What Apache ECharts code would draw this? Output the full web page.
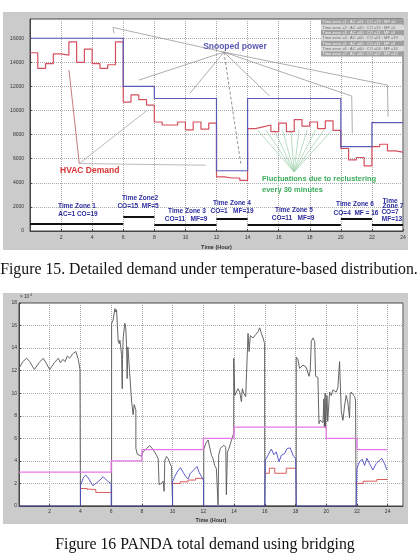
<!DOCTYPE html>
<html>
<head>
<meta charset="utf-8">
<script src="https://cdn.jsdelivr.net/npm/echarts@6/dist/echarts.min.js"></script>
<style>
html, body { margin: 0; padding: 0; background: #fff; }
#chart { width: 418px; height: 554px; }
</style>
</head>
<body>
<div id="chart"></div>
<script>
// time zone edges (hour)
const zoneEdges = [0, 6, 8, 12, 14, 20, 22, 24];
// fig 15: snooped power per zone (W)
const snoopedPower = [16000, 12000, 11000, 5000, 11000, 7000, 9000];
// fig 15: thick black zone markers
const zoneMarker = [600, 1200, 500, 1000, 500, 1000, 500];
// fig 15: HVAC demand, one value every 30 minutes
const hvacDemand = [
  14800, 13500, 13900, 14700, 14600, 15700, 14000, 15100, 13900, 13500, 13800, 15700,
  10700, 11300, 10900, 10450,
  9050, 8800, 8800, 9050, 8400, 9050, 8450, 8950,
  4500, 4400, 4400, 4200,
  8500, 8650, 8800, 8250, 8950, 8250, 9250, 8700, 9050, 8500, 9150, 8350,
  6850, 5900, 6100, 5400,
  7000, 7200, 6650, 6550
];
const zoneText = [
  'Time zone =1 : AC =01 : CO =19 : MF =0',
  'Time zone =2 : AC =00 : CO =15 : MF =5',
  'Time zone =3 : AC =00 : CO =11 : MF =9',
  'Time zone =4 : AC =00 : CO =01 : MF =19',
  'Time zone =5 : AC =00 : CO =11 : MF =9',
  'Time zone =6 : AC =00 : CO =04 : MF =16',
  'Time zone =7 : AC =00 : CO =07 : MF =13'
];
// leader lines (data coords of fig 15)
const snoopLeaders = [
  [[12.48, 14850], [5.34, 16900], [5.41, 16400]],
  [[12.48, 14850], [7.01, 12530]],
  [[12.48, 14850], [10.28, 11420]],
  [[12.48, 14850], [15.42, 11200]],
  [[12.48, 14850], [20.7, 11200], [20.74, 8120]],
  [[12.48, 14850], [23.0, 12110], [23.04, 9480]]
];
const snoopDashed = [[[12.48, 14850], [13.56, 5600]]];
const hvacLeaders = [
  [[3.17, 5600], [7.55, 10030]],
  [[3.17, 5600], [11.31, 5460]]
];
const hvacRedLeader = [[[3.17, 5600], [2.51, 13360]]];
const fluctApex = [16.99, 4900];
const fluctTargets = [14.63, 15.17, 15.70, 16.24, 16.78, 17.31, 17.85, 18.38, 18.92, 19.46];

// fig 16 (x 10^4 W)
const zoneBudget = [3, 4, 5, 6, 7, 6, 5];
const pandaTotal = [
  [0, 12.2], [0.25, 12.8], [0.5, 13.1], [0.7, 12.8], [1.0, 12.1], [1.3, 12.7], [1.58, 13.1],
  [1.8, 12.6], [2.0, 12.1], [2.3, 12.7], [2.56, 13.1], [2.7, 12.7], [2.85, 13.0], [3.0, 12.8],
  [3.15, 13.3], [3.3, 13.1], [3.5, 13.5], [3.7, 13.7], [3.86, 13.0], [3.97, 12.1], [4.0, 0],
  [6.03, 0], [6.03, 16.2], [6.13, 16.5], [6.24, 17.5], [6.3, 17.2], [6.35, 17.4], [6.46, 14.6],
  [6.52, 14.4], [6.57, 14.7], [6.68, 13.4], [6.72, 10.4], [6.74, 13.0], [6.78, 14.9], [6.89, 16.2],
  [6.95, 15.8], [7.0, 14.3], [7.04, 11.3], [7.09, 14.1], [7.17, 12.5], [7.26, 12.5], [7.33, 9.3],
  [7.43, 8.1], [7.5, 9.0], [7.54, 8.9], [7.61, 8.5], [7.61, 5.1], [7.7, 4.6], [7.82, 4.5],
  [7.98, 4.4], [8.08, 4.8], [8.3, 5.1], [8.52, 5.35], [8.73, 5.0], [8.95, 4.5], [9.06, 4.2],
  [9.12, 1.9], [9.28, 2.0], [9.38, 2.2], [9.45, 1.3], [9.49, 4.0], [9.6, 4.4], [9.71, 4.2],
  [9.82, 3.8], [9.93, 3.5], [9.99, 3.5], [10.0, 0],
  [12.03, 0], [12.03, 5.0], [12.16, 5.55], [12.31, 5.85], [12.42, 5.7], [12.53, 4.5], [12.63, 4.2],
  [12.74, 3.6], [12.85, 3.3], [12.96, 3.3], [12.96, 0.1], [13.0, 4.5], [13.11, 5.1], [13.33, 5.4],
  [13.46, 5.2], [13.5, 1.0], [13.57, 4.8], [13.67, 5.1], [13.76, 5.5], [13.87, 6.0], [13.98, 6.45],
  [13.98, 13.1], [14.05, 9.8], [14.26, 10.4], [14.37, 10.1], [14.48, 9.25], [14.54, 10.4],
  [14.63, 10.0], [14.76, 9.7], [14.85, 9.6], [14.91, 15.3], [14.98, 13.7], [15.06, 15.1],
  [15.24, 14.9], [15.41, 15.2], [15.56, 15.45], [15.67, 15.8], [15.78, 15.3], [15.89, 14.9],
  [15.99, 14.4], [16.0, 0],
  [18.05, 0], [18.05, 13.2], [18.16, 13.0], [18.27, 12.2], [18.49, 12.5], [18.7, 12.3],
  [18.88, 11.5], [18.96, 12.0], [19.03, 14.6], [19.14, 14.9], [19.25, 14.6], [19.31, 11.5],
  [19.4, 11.4], [19.46, 11.4], [19.53, 7.3], [19.61, 7.6], [19.79, 7.4], [19.85, 9.5],
  [19.88, 7.0], [19.93, 10.0], [19.96, 6.9], [20.0, 6.9], [20.05, 9.8], [20.1, 7.5],
  [20.22, 10.1], [20.33, 9.8], [20.44, 10.3], [20.55, 10.4], [20.65, 10.1], [20.76, 10.5],
  [20.87, 12.8], [20.94, 12.7], [20.98, 8.4], [21.09, 7.6], [21.2, 8.95], [21.3, 9.8],
  [21.41, 9.2], [21.52, 7.8], [21.56, 9.9], [21.63, 10.1], [21.74, 10.0], [21.85, 9.7],
  [21.91, 9.4], [21.95, 0]
];
const groupPower = [
  [0, 0], [4, 0], [4, 1.8], [4.2, 2.55], [4.35, 2.75], [4.55, 2.4], [4.8, 1.8], [5.0, 2.0],
  [5.27, 2.3], [5.48, 2.6], [5.59, 2.75], [5.81, 2.15], [6.0, 2.0], [6.0, 0],
  [10, 0], [10, 2.15], [10.14, 2.6], [10.29, 3.0], [10.51, 3.4], [10.68, 3.0], [10.86, 2.6],
  [11.01, 2.4], [11.16, 2.9], [11.38, 3.2], [11.59, 3.5], [11.72, 3.0], [11.88, 2.6],
  [12.01, 2.3], [12.01, 0],
  [16, 0], [16.04, 4.08], [16.21, 4.5], [16.43, 5.05], [16.6, 4.55], [16.75, 4.8], [16.93, 3.93],
  [17.08, 4.5], [17.3, 4.65], [17.45, 5.1], [17.66, 5.15], [17.84, 4.5], [18.01, 4.2], [18.05, 0],
  [21.95, 0], [22, 3.34], [22.17, 3.93], [22.34, 4.15], [22.5, 3.6], [22.65, 4.23], [22.82, 3.75],
  [23.04, 3.19], [23.25, 3.75], [23.47, 4.05], [23.62, 4.23], [23.8, 3.75], [23.95, 3.19]
];
const groupHvac = [
  [[4, 1.55], [4.45, 1.55], [4.45, 1.45], [4.55, 1.5], [5.0, 1.45], [5.0, 1.2], [6.0, 1.2]],
  [[10, 2.0], [10.5, 2.0], [10.5, 2.15], [11, 2.15], [11, 2.3], [11.5, 2.3], [11.5, 2.45], [12, 2.45]],
  [[16, 2.9], [16.3, 2.9], [16.3, 3.35], [16.65, 3.35], [16.65, 2.9], [17.4, 2.9], [17.4, 3.35], [18, 3.35]],
  [[22, 2.0], [22.4, 2.0], [22.4, 2.2], [23.3, 2.2], [23.3, 2.35], [24, 2.35]]
];

const SANS = '"Liberation Sans", Arial, sans-serif';
const SERIF = '"Liberation Serif", "Times New Roman", serif';

function stepData(edges, vals) {
  const d = vals.map((v, i) => [edges[i], v]);
  d.push([edges[edges.length - 1], vals[vals.length - 1]]);
  return d;
}
function asLines(list) {
  return list.map(c => ({ coords: c }));
}

const hvacData = hvacDemand.map((v, i) => [i * 0.5, v]);
hvacData.push([24, hvacDemand[hvacDemand.length - 1]]);

const markerLines = zoneMarker.map((v, i) => ({
  coords: [[zoneEdges[i], v], [zoneEdges[i + 1], v]]
}));
const fluctLines = fluctTargets.map(t => ({ coords: [fluctApex, [t, 8400]] }));

function axisBase(extra) {
  return Object.assign({
    type: 'value',
    axisLine: { show: true, lineStyle: { color: '#444', width: 1 } },
    axisTick: { show: true, inside: true, length: 2, lineStyle: { color: '#444' } },
    splitLine: { show: true, lineStyle: { color: '#aaa', type: 'dotted', width: 1 } },
    nameTextStyle: { fontSize: 5.5, fontWeight: 'bold', color: '#333', fontFamily: SANS }
  }, extra);
}
function labelStyle(extra) {
  return Object.assign({
    fontSize: 5, color: '#333', fontFamily: SANS,
    formatter: v => String(v)
  }, extra);
}

function txt(x, y, text, font, fill, align) {
  return {
    type: 'text', x: x, y: y, z: 50,
    style: {
      text: text, font: font, fill: fill,
      align: align || 'center', verticalAlign: 'middle',
      textAlign: align || 'center', textVerticalAlign: 'middle'
    }
  };
}

const tzFont = 'bold 6.5px ' + SANS;
const tzColor = '#2c2ca0';
const graphics = [
  { type: 'rect', z: -10, shape: { x: 3, y: 12, width: 405, height: 238 }, style: { fill: '#cbcbcb' } },
  { type: 'rect', z: -10, shape: { x: 3, y: 293, width: 405, height: 231 }, style: { fill: '#cbcbcb' } },
  txt(209, 270, 'Figure 15. Detailed demand under temperature-based distribution.', '15.8px ' + SERIF, '#111'),
  txt(205, 545, 'Figure 16 PANDA total demand using bridging', '15.8px ' + SERIF, '#111'),
  txt(235, 47, 'Snooped power', 'bold 8.5px ' + SANS, '#5a5ab4'),
  txt(60, 171, 'HVAC Demand', 'bold 8.5px ' + SANS, '#d83232', 'left'),
  txt(262, 179, 'Fluctuations due to reclustering', 'bold 7.5px ' + SANS, '#3caa5a', 'left'),
  txt(262, 190, 'every 30 minutes', 'bold 7.5px ' + SANS, '#3caa5a', 'left'),
  txt(77, 206, 'Time Zone 1', tzFont, tzColor),
  txt(78, 214, 'AC=1 CO=19', tzFont, tzColor),
  txt(140, 198, 'Time Zone2', tzFont, tzColor),
  txt(138, 206.5, 'CO=15  MF=5', tzFont, tzColor),
  txt(187, 211, 'Time Zone 3', tzFont, tzColor),
  txt(186, 219, 'CO=11   MF=9', tzFont, tzColor),
  txt(232, 203, 'Time Zone 4', tzFont, tzColor),
  txt(232, 211.5, 'CO=1   MF=19', tzFont, tzColor),
  txt(294, 210, 'Time Zone 5', tzFont, tzColor),
  txt(293, 218.3, 'CO=11   MF=9', tzFont, tzColor),
  txt(355, 204, 'Time Zone 6', tzFont, tzColor),
  txt(356, 213, 'CO=4  MF = 16', tzFont, tzColor),
  txt(390, 201, 'Time', tzFont, tzColor),
  txt(393, 206.5, 'Zone 7', tzFont, tzColor),
  txt(390, 212, 'CO=7', tzFont, tzColor),
  txt(392, 219.5, 'MF=13', tzFont, tzColor),
  txt(20, 297, '\u00d7 10', '4.5px ' + SANS, '#333', 'left'),
  txt(30, 295.5, '4', '3.5px ' + SANS, '#333', 'left')
];
// zone summary box
zoneText.forEach((t, i) => {
  const dark = i % 2 === 0;
  graphics.push({
    type: 'rect', z: 40,
    shape: { x: 321, y: 19.5 + i * 5.3, width: 83, height: 5.3 },
    style: { fill: dark ? '#a0a0a0' : '#dadada' }
  });
  graphics.push(txt(322.5, 22.2 + i * 5.3, t, '4px ' + SANS, dark ? '#f4f4f4' : '#6a6a6a', 'left'));
});

const chart = echarts.init(document.getElementById('chart'), null, { renderer: 'canvas' });
chart.setOption({
  animation: false,
  backgroundColor: '#fff',
  grid: [
    {
      left: 30, top: 19, right: 15, bottom: 323, containLabel: false, outerBoundsMode: 'none',
      show: true, backgroundColor: '#fff', borderColor: '#444', borderWidth: 1
    },
    {
      left: 19, top: 303, right: 15, bottom: 48, containLabel: false, outerBoundsMode: 'none',
      show: true, backgroundColor: '#fff', borderColor: '#444', borderWidth: 1
    }
  ],
  xAxis: [
    axisBase({
      gridIndex: 0, min: 0, max: 24, interval: 2,
      name: 'Time (Hour)', nameLocation: 'middle', nameGap: 13,
      axisLabel: labelStyle({ margin: 4, showMinLabel: false })
    }),
    axisBase({
      gridIndex: 1, min: 0, max: 25, interval: 2,
      name: 'Time (Hour)', nameLocation: 'middle', nameGap: 11,
      axisLabel: labelStyle({ margin: 3, showMinLabel: false, showMaxLabel: false })
    })
  ],
  yAxis: [
    axisBase({
      gridIndex: 0, min: 0, max: 17600, interval: 2000,
      name: 'Power (W)', nameLocation: 'middle', nameGap: 23,
      axisLabel: labelStyle({ margin: 6, showMaxLabel: false })
    }),
    axisBase({
      gridIndex: 1, min: 0, max: 18, interval: 2,
      name: 'Power (w)', nameLocation: 'middle', nameGap: 12,
      axisLabel: labelStyle({ margin: 2 })
    })
  ],
  graphic: graphics,
  series: [
    {
      type: 'lines', coordinateSystem: 'cartesian2d', xAxisIndex: 0, yAxisIndex: 0,
      silent: true, data: markerLines, lineStyle: { color: '#111', width: 2, opacity: 1 }
    },
    {
      type: 'line', xAxisIndex: 0, yAxisIndex: 0, step: 'end', showSymbol: false, silent: true,
      data: hvacData, lineStyle: { color: '#d5505e', width: 1.2 }
    },
    {
      type: 'line', xAxisIndex: 0, yAxisIndex: 0, step: 'end', showSymbol: false, silent: true,
      data: stepData(zoneEdges, snoopedPower), lineStyle: { color: '#5a5ab8', width: 1.2 }
    },
    {
      type: 'lines', coordinateSystem: 'cartesian2d', xAxisIndex: 0, yAxisIndex: 0, polyline: true,
      silent: true, data: asLines(snoopLeaders), lineStyle: { color: '#999', width: 0.8, opacity: 1 }
    },
    {
      type: 'lines', coordinateSystem: 'cartesian2d', xAxisIndex: 0, yAxisIndex: 0, polyline: true,
      silent: true, data: asLines(snoopDashed), lineStyle: { color: '#777', width: 0.8, type: [3, 2], opacity: 1 }
    },
    {
      type: 'lines', coordinateSystem: 'cartesian2d', xAxisIndex: 0, yAxisIndex: 0, polyline: true,
      silent: true, data: asLines(hvacLeaders), lineStyle: { color: '#aaa', width: 0.8, opacity: 1 }
    },
    {
      type: 'lines', coordinateSystem: 'cartesian2d', xAxisIndex: 0, yAxisIndex: 0, polyline: true,
      silent: true, data: asLines(hvacRedLeader), lineStyle: { color: '#b85a5a', width: 0.8, opacity: 1 }
    },
    {
      type: 'lines', coordinateSystem: 'cartesian2d', xAxisIndex: 0, yAxisIndex: 0,
      silent: true, data: fluctLines, lineStyle: { color: '#9bcfa8', width: 0.7, opacity: 1 }
    },
    {
      type: 'line', xAxisIndex: 1, yAxisIndex: 1, showSymbol: false, silent: true,
      data: pandaTotal, lineStyle: { color: '#555', width: 0.9 }
    },
    {
      type: 'line', xAxisIndex: 1, yAxisIndex: 1, step: 'end', showSymbol: false, silent: true,
      data: stepData(zoneEdges, zoneBudget), lineStyle: { color: '#e678e6', width: 1.3 }
    },
    {
      type: 'lines', coordinateSystem: 'cartesian2d', xAxisIndex: 1, yAxisIndex: 1, polyline: true,
      silent: true, data: asLines(groupHvac), lineStyle: { color: '#d84848', width: 0.9, opacity: 1 }
    },
    {
      type: 'line', xAxisIndex: 1, yAxisIndex: 1, showSymbol: false, silent: true,
      data: groupPower, lineStyle: { color: '#4a4ac4', width: 0.9 }
    }
  ]
});
</script>
</body>
</html>
